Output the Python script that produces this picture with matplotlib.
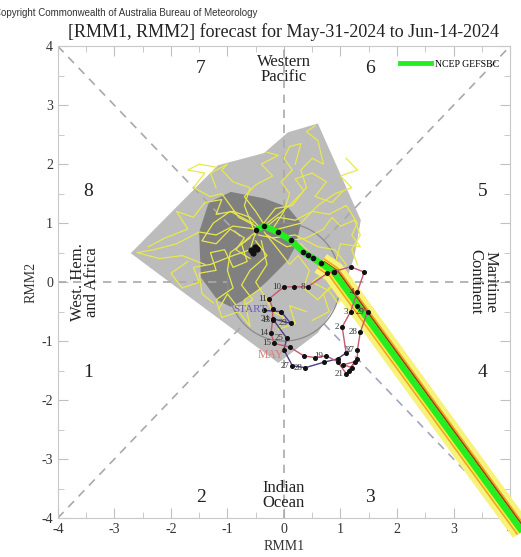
import numpy as np
import matplotlib
matplotlib.use("Agg")
import matplotlib.pyplot as plt
from matplotlib.patches import Polygon, Circle
from matplotlib.lines import Line2D

plt.rcParams['font.family'] = ['Liberation Serif', 'DejaVu Serif']
plt.rcParams['axes.unicode_minus'] = False

# ensemble spread (outer / inner hull)
outer_x = [-2.71, -1.17, -0.35, 0.07, 0.60, 1.36, 1.25, 1.01, 0.60, -0.10]
outer_y = [0.49, 1.98, 2.19, 2.54, 2.69, 1.05, 0.45, -0.25, -0.86, -1.37]
inner_x = [-1.50, -1.33, -0.94, -0.35, 0.07, 0.30, 0.20, 0.07, -0.28, -0.60, -0.94, -1.17, -1.47]
inner_y = [0.85, 1.35, 1.53, 1.42, 1.27, 1.00, 0.60, 0.37, 0.03, -0.25, -0.42, -0.31, 0.08]

# ensemble members (yellow)
members = [
    ([-0.5, -0.9, -1.2, -1.5, -1.9, -2.3, -2.6, -2.2, -1.8, -1.4],
     [0.9, 0.95, 0.8, 0.85, 0.65, 0.55, 0.5, 0.4, 0.45, 0.3]),
    ([-0.4, -0.6, -0.9, -1.2, -1.1, -1.4, -1.6, -1.9, -1.7, -2.1, -2.4],
     [0.9, 1.1, 1.2, 1.15, 1.4, 1.35, 1.1, 1.2, 0.9, 0.75, 0.6]),
    ([-0.3, -0.1, 0.2, 0.5, 0.8, 1.1, 1.3, 1.2, 1.35, 1.0, 0.9],
     [0.95, 1.1, 1.05, 1.2, 1.15, 1.3, 1.0, 0.8, 0.6, 0.65, 0.3]),
    ([-0.5, -0.7, -0.6, -0.9, -1.1, -1.0, -1.3, -1.2],
     [0.8, 1.3, 1.6, 1.7, 1.9, 2.0, 1.85, 1.6]),
    ([-0.2, 0.0, 0.1, -0.05, 0.15, 0.0, 0.1, 0.3, 0.2],
     [0.9, 1.2, 1.5, 1.7, 1.9, 2.1, 2.3, 2.35, 2.0]),
    ([-0.3, 0.1, 0.4, 0.3, 0.5, 0.7, 0.6, 0.4, 0.55],
     [1.0, 1.3, 1.6, 1.9, 2.1, 2.0, 2.4, 2.55, 2.65]),
    ([-0.1, 0.3, 0.6, 0.9, 1.2, 1.0, 1.3, 1.1],
     [0.9, 1.0, 1.3, 1.5, 1.6, 1.8, 1.9, 2.1]),
    ([-0.6, -0.95, -1.0, -0.9, -1.2, -1.1, -0.8, -0.6, -0.7, -0.4],
     [0.75, 0.5, 0.2, -0.1, -0.3, -0.6, -0.5, -0.75, -0.3, -0.1]),
    ([-0.4, -0.3, -0.5, -0.3, -0.2, 0.0, -0.1, 0.2, 0.1, 0.4],
     [0.7, 0.3, 0.0, -0.3, -0.5, -0.6, -0.8, -0.7, -0.4, -0.5]),
    ([-0.5, -0.6, -0.9, -1.3, -1.6, -1.5, -1.8, -2.0, -1.7],
     [0.85, 0.55, 0.45, 0.3, 0.25, 0.0, -0.1, 0.15, 0.35]),
    ([-0.45, -0.2, 0.2, 0.6, 0.9, 1.1, 0.95, 0.7, 0.8, 0.5],
     [0.8, 0.75, 0.8, 0.6, 0.55, 0.3, 0.0, -0.2, -0.5, -0.65]),
    ([-0.5, -0.8, -1.1, -1.3, -1.6, -1.4, -1.7, -1.5, -1.2],
     [0.95, 1.1, 1.5, 1.45, 1.6, 1.85, 1.9, 2.0, 1.95]),
    ([-0.3, -0.5, -0.7, -0.5, -0.2, -0.4, -0.1, -0.3],
     [0.9, 1.2, 1.45, 1.65, 1.8, 2.0, 2.15, 2.2]),
    ([-0.2, 0.1, 0.4, 0.7, 0.85, 1.0, 1.25, 1.35, 1.2, 1.3],
     [0.85, 0.7, 0.75, 0.9, 1.1, 0.95, 1.05, 0.8, 0.55, 0.3]),
    ([-0.5, -0.75, -0.65, -0.9, -1.05, -1.3, -1.2, -1.5, -1.45, -1.25],
     [0.85, 0.65, 0.35, 0.25, 0.55, 0.5, 0.2, 0.15, -0.2, -0.35]),
    ([-0.35, -0.1, 0.1, 0.25, 0.45, 0.35, 0.6, 0.8, 0.95],
     [0.85, 0.55, 0.3, 0.45, 0.2, -0.1, -0.3, -0.1, 0.05]),
    ([-0.55, -0.95, -1.25, -1.45, -1.2, -0.95, -0.7, -0.85, -0.6],
     [1.0, 1.2, 1.0, 0.7, 0.65, 0.9, 0.75, 0.55, 0.4]),
    ([-0.4, -0.15, 0.15, 0.35, 0.2, 0.5, 0.75, 0.55, 0.85, 1.05],
     [0.95, 1.25, 1.3, 1.55, 1.75, 1.85, 1.7, 1.45, 1.35, 1.55]),
    ([-0.5, -0.3, -0.6, -0.75, -0.55, -0.8, -1.0, -1.15],
     [0.7, 0.45, 0.2, -0.05, -0.3, -0.45, -0.2, -0.45]),
    ([-0.3, 0.05, 0.3, 0.55, 0.7, 0.5, 0.8, 0.95, 1.15],
     [0.8, 0.6, 0.65, 0.4, 0.15, 0.0, -0.15, -0.35, -0.2]),
]

# ensemble mean forecast (NCEP GEFSBC)
fc_x = [-0.50, -0.35, -0.11, 0.12, 0.34, 0.42, 0.51, 0.65, 0.88]
fc_y = [0.88, 0.95, 0.85, 0.71, 0.51, 0.46, 0.41, 0.32, 0.17]
fc_end_x = 4.6
fc_end_y = -4.74
blob_x = [-0.58, -0.52, -0.55, -0.48]
blob_y = [0.55, 0.60, 0.50, 0.56]

# observed RMM, last 40 days
apr_days = [21, 22, 23, 24, 25, 26, 27, 28, 29, 30]
apr_x = [-0.35, -0.05, 0.12, -0.20, 0.05, 0.00, 0.15, 0.38, 0.70, 0.95]
apr_y = [-0.48, -0.50, -0.70, -0.62, -0.95, -1.15, -1.42, -1.45, -1.36, -1.30]
may_days = list(range(1, 31))
may_x = [1.10, 1.03, 1.18, 1.30, 1.42, 1.18, 0.77, 0.42, 0.18, 0.00,
         -0.26, -0.20, -0.20, -0.23, -0.17, 0.10, 0.35, 0.55, 0.75, 0.95,
         1.10, 1.20, 1.05, 1.25, 1.15, 1.30, 1.30, 1.35, 1.48, 1.30]
may_y = [-1.20, -0.76, -0.50, -0.16, 0.17, 0.26, 0.15, -0.08, -0.08, -0.08,
         -0.28, -0.45, -0.64, -0.87, -1.04, -1.10, -1.25, -1.28, -1.25, -1.35,
         -1.55, -1.45, -1.40, -1.35, -1.50, -1.30, -1.15, -0.85, -0.50, -0.40]
apr_labelled = {23, 24, 25, 27, 28}
may_labelled = {2, 3, 4, 8, 10, 11, 13, 14, 15, 19, 21, 27, 28, 29}

phase_num = ['1', '2', '3', '4', '5', '6', '7', '8']
phase_x = [-3.47, -1.47, 1.52, 3.52, 3.52, 1.52, -1.47, -3.47]
phase_y = [-1.53, -3.66, -3.66, -1.53, 1.53, 3.63, 3.63, 1.53]

fig = plt.figure(figsize=(5.21, 5.57), dpi=100)
ax = fig.add_axes([0.111, 0.070, 0.868, 0.847])
ax.set_xlim(-4, 4)
ax.set_ylim(-4, 4)

ax.add_patch(Polygon(np.column_stack([outer_x, outer_y]), closed=True,
                     facecolor='#bcbcbc', edgecolor='none', zorder=1))
ax.add_patch(Polygon(np.column_stack([inner_x, inner_y]), closed=True,
                     facecolor='#808080', edgecolor='none', zorder=1.5))

# phase lines and unit circle
dash = dict(color='#a9a9a9', lw=1.2, ls=(0, (5, 4)), zorder=2)
s = 1 / np.sqrt(2)
ax.plot([-4, -1], [0, 0], **dash)
ax.plot([1, 4], [0, 0], **dash)
ax.plot([0, 0], [1, 4], **dash)
ax.plot([0, 0], [-4, -1], **dash)
ax.plot([-4, -s], [4, s], **dash)
ax.plot([s, 4], [s, 4], **dash)
ax.plot([-4, -s], [-4, -s], **dash)
ax.plot([s, 4], [-s, -4], color='#a4a4c0', lw=1.2, ls=(0, (5, 4)), zorder=2)
ax.add_patch(Circle((0, 0), 1, fill=False, edgecolor='#8a8a8a', lw=0.9, zorder=2))

for mx, my in members:
    ax.plot(mx, my, color='#e8e84c', lw=0.9, zorder=3)

# forecast band
bx = [fc_x[-2], fc_x[-1], fc_end_x]
by = [fc_y[-2], fc_y[-1], fc_end_y]
ax.plot(bx, by, color='#f6f27a', lw=16, solid_capstyle='butt', zorder=4, clip_on=False)
ax.plot(bx, by, color='#f0a020', lw=9, solid_capstyle='butt', zorder=4, clip_on=False)
ax.plot(bx, by, color='#f2e840', lw=7, solid_capstyle='butt', zorder=4, clip_on=False)
ax.plot([v + 0.07 for v in bx], [v + 0.02 for v in by], color='#a04010', lw=1.2,
        zorder=4.2, clip_on=False)
ax.plot(fc_x + [fc_end_x], fc_y + [fc_end_y], color='#22ee22', lw=4.5,
        solid_capstyle='butt', zorder=4.5, clip_on=False)
ax.plot(fc_x, fc_y, 'o', color='#111111', ms=3, zorder=6)
ax.plot(blob_x, blob_y, 'o', color='#111111', ms=3.5, zorder=6)

# observations
ax.plot(apr_x + [may_x[0]], apr_y + [may_y[0]], color='#4a3f8a', lw=1.0, zorder=5)
ax.plot(may_x, may_y, color='#c55a6e', lw=1.0, zorder=5)
ax.plot(apr_x + may_x, apr_y + may_y, 'o', color='#111111', ms=2.6, zorder=6)
for days, xs, ys, keep in [(apr_days, apr_x, apr_y, apr_labelled),
                           (may_days, may_x, may_y, may_labelled)]:
    for d, x, y in zip(days, xs, ys):
        if d in keep:
            ax.text(x - 0.05, y, str(d), fontsize=6.5, color='#333333', ha='right',
                    va='center', zorder=6)
ax.text(-0.6, -0.47, 'START', fontsize=8, color='#6a5ab8', ha='center',
        va='center', zorder=6)
ax.text(-0.23, -1.24, 'MAY', fontsize=8.5, color='#e07878', ha='center',
        va='center', zorder=6)

# labels
for t, x, y in zip(phase_num, phase_x, phase_y):
    ax.text(x, y, t, fontsize=14, ha='center', va='center', color='#222222')
ax.text(0, 3.6, 'Western\nPacific', fontsize=12, ha='center', va='center',
        linespacing=0.9, color='#222222')
ax.text(0, -3.62, 'Indian\nOcean', fontsize=12, ha='center', va='center',
        linespacing=0.9, color='#222222')
ax.text(-3.52, 0, 'West. Hem.\nand Africa', fontsize=12, ha='center', va='center',
        rotation=90, linespacing=0.9, color='#222222')
ax.text(3.52, 0, 'Maritime\nContinent', fontsize=12, ha='center', va='center',
        rotation=-90, linespacing=0.9, color='#222222')

ax.legend(handles=[Line2D([], [], color='#22ee22', lw=3.5)], labels=['NCEP GEFSBC'],
          loc='upper right', bbox_to_anchor=(0.995, 0.99), frameon=False,
          fontsize=7, handlelength=3.2, handletextpad=0.4)

ax.set_xticks(range(-4, 5))
ax.set_yticks(range(-4, 5))
ax.set_xticks(np.arange(-3.5, 4, 1), minor=True)
ax.set_yticks(np.arange(-3.5, 4, 1), minor=True)
ax.tick_params(which='both', direction='in', top=True, right=True, color='#c0c0c0',
               labelsize=10, labelcolor='#333333')
ax.tick_params(which='major', length=7)
ax.tick_params(which='minor', length=4)
for sp in ax.spines.values():
    sp.set_color('#c8c8c8')
ax.set_xlabel('RMM1', fontsize=10, color='#333333', labelpad=3)
ax.set_ylabel('RMM2', fontsize=10, color='#333333', labelpad=3)

fig.text(0.5435, 0.943, '[RMM1, RMM2] forecast for May-31-2024 to Jun-14-2024',
         fontsize=13, ha='center', va='center', color='#222222')
fig.text(-0.012, 0.977, 'Copyright Commonwealth of Australia Bureau of Meteorology',
         fontsize=7, ha='left', va='center', color='#333333',
         family=['Liberation Sans', 'DejaVu Sans'])

fig.savefig('out.png', dpi=100)
